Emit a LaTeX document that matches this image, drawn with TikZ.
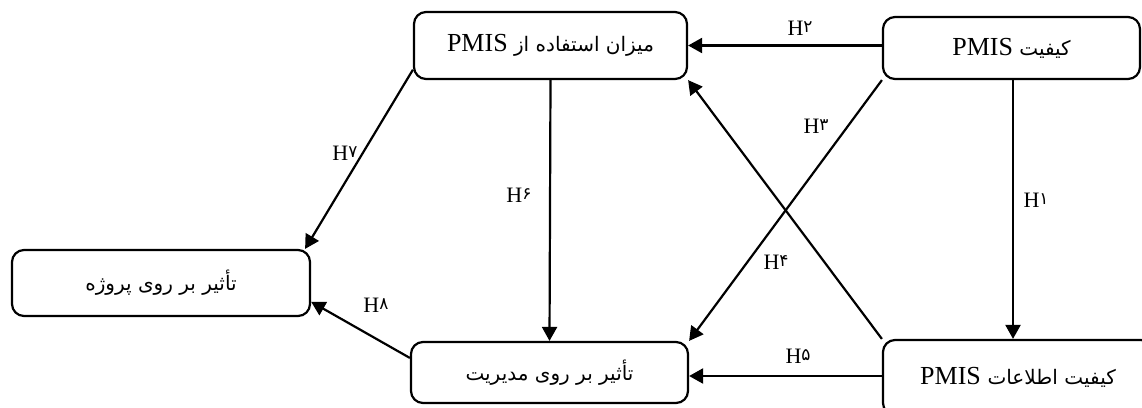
\documentclass[tikz,border=0pt]{standalone}
\usepackage{fontspec}
\setmainfont{Liberation Serif}
\newfontfamily\arabicfont[Script=Arabic]{DejaVu Sans}
\TeXXeTstate=1
\usetikzlibrary{arrows.meta,calc}
\newcommand\latw[1]{\beginL{\rmfamily\fontsize{26}{30}\selectfont #1}\endL{}}
\newcommand\hyp[1]{{\rmfamily\fontsize{22}{24}\selectfont H}{\arabicfont\fontsize{17}{18}\selectfont\raisebox{3pt}{#1}}}
\tikzset{
  box/.style={draw, line width=2.2pt, rounded corners=12pt, inner sep=0pt,
    font=\arabicfont\fontsize{20}{24}\selectfont, align=center},
  arr/.style={line width=2.2pt, -{Triangle[length=14pt,width=15pt]}},
  hl/.style={inner sep=0pt, anchor=center},
}
\begin{document}
\begin{tikzpicture}[x=1pt,y=-1pt]
\useasboundingbox (0,0) rectangle (1142,407);
\clip (0,0) rectangle (1142,407);
% nodes
\node[box, minimum width=273pt, minimum height=67pt] (use) at (550.5,45.5)
  {\beginR میزان استفاده از \latw{PMIS}\endR};
\node[box, minimum width=257pt, minimum height=62pt] (kq) at (1011.5,48)
  {\beginR کیفیت \latw{PMIS}\endR};
\node[box, minimum width=298pt, minimum height=66pt] (proj) at (161,283)
  {\beginR تأثیر بر روی پروژه\endR};
\node[box, minimum width=277pt, minimum height=61pt] (mgmt) at (549.5,372.5)
  {\beginR تأثیر بر روی مدیریت\endR};
\node[box, minimum width=270pt, minimum height=75pt, text width=250pt] (iq) at (1018,377.5)
  {\beginR کیفیت اطلاعات \latw{PMIS}\endR};
% connectors
\draw[arr] (kq.west |- use.east) -- (use.east);
\draw[arr] (kq.south -| 1013,0) -- (1013,0 |- iq.north);
\draw[arr] (kq.south west) -- (mgmt.north east);
\draw[arr] (iq.north west) -- (use.south east);
\draw[arr] (iq.west |- 0,376) -- (mgmt.east |- 0,376);
\draw[arr] (use.south) -- (mgmt.north);
\draw[arr] ($(use.north west)!0.85!(use.south west)$) -- ($(proj.north east)+(-6,0)$);
\draw[arr] ($(mgmt.north west)!0.27!(mgmt.south west)$) -- ($(proj.east)!0.55!(proj.south east)$);
% labels
\node[hl] (h1) at (1036,200) {\hyp{۱}};
\node[hl] (h2) at (800,28) {\hyp{۲}};
\node[hl] (h3) at (816,126) {\hyp{۳}};
\node[hl] (h4) at (776,262) {\hyp{۴}};
\node[hl] (h5) at (798,356) {\hyp{۵}};
\node[hl] (h6) at (519,195) {\hyp{۶}};
\node[hl] (h7) at (345,153) {\hyp{۷}};
\node[hl] (h8) at (376,305) {\hyp{۸}};
\end{tikzpicture}
\end{document}
